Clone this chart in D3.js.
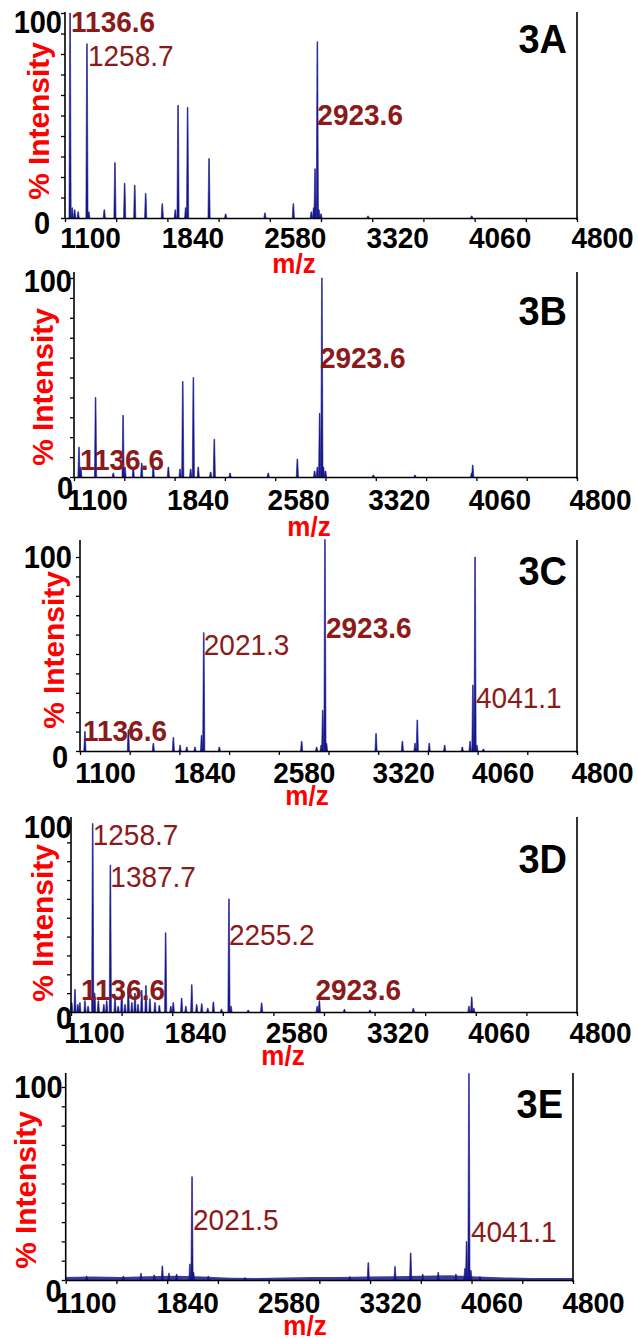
<!DOCTYPE html>
<html><head><meta charset="utf-8">
<script src="https://cdn.jsdelivr.net/npm/d3@7"></script>
<style>
html,body{margin:0;padding:0;background:#fff;}
svg{display:block;font-family:"Liberation Sans",Arial,sans-serif;}
</style></head><body>
<svg id="chart" width="638" height="1338"></svg>
<script>
// ---------- DATA ----------
const mzTickLabels = [1100, 1840, 2580, 3320, 4060, 4800];
const mzTickMarks = [1100, 1470, 1840, 2210, 2580, 2950, 3320, 3690, 4060, 4430, 4800];
const intensityTicks = [0, 10, 20, 30, 40, 50, 60, 70, 80, 90, 100];
const panelNames = ["3A", "3B", "3C", "3D", "3E"];
const xTitle = "m/z";
const yTitle = "% Intensity";

// peaks: [m/z, % intensity]
const peaksA = [[1136.6,100],[1152,5],[1170,4],[1195,3],[1258.7,85],[1272,3],[1384,4],[1461,27],[1531,17],[1604,16],[1683,12],[1803,7],[1897,4],[1917,55],[1972,5],[1986,54],[2141,29],[2261,2],[2545,2.5],[2750,7],[2880,3],[2897,5],[2907,24],[2923.6,86],[2935,4],[2950,2],[3290,1],[4039,1]];
const peaksB = [[1136.6,15],[1150,5],[1258.7,40],[1389,2],[1461,31],[1475,5],[1536,5],[1598,7],[1683,6],[1794,5],[1880,4],[1900,48],[1958,4],[1978,50],[2014,5],[2105,2.5],[2132,19],[2248,2],[2529,2],[2743,9],[2870,3],[2890,5],[2907,32],[2923.6,100],[2935,5],[2950,3],[3302,1],[3608,1],[4025,2],[4033,6]];
const peaksC = [[1136.6,10],[1460,11],[1646,4],[1795,7],[1845,3],[1895,2],[1956,2],[2005,8],[2021.3,61],[2137,2],[2750,5],[2862,2],[2895,3],[2907,21],[2923.6,109],[2935,4],[3304,9],[3500,5],[3594,4],[3611,16],[3700,4],[3815,3],[3946,2],[4004,5],[4025,34],[4041.1,100],[4055,3],[4103,1]];
const peaksD = [[1105,5],[1129,12],[1150,4],[1165,5],[1202,6],[1225,3],[1258.7,100],[1273,10],[1300,6],[1340,4],[1361,6],[1387.7,78],[1422,7],[1445,3],[1471,12],[1495,4],[1519,13],[1545,5],[1568,10],[1590,4],[1617,11.5],[1648,14],[1677,7],[1714,5],[1746,3.5],[1792,42],[1830,3],[1848,5],[1909,7.4],[1940,3],[1983,14.5],[2019,4],[2056,4.4],[2100,2],[2141,5.3],[2200,1.5],[2255.2,60],[2270,3],[2396,1],[2494,4.8],[2900,3],[2916,6],[3099,1.4],[3286,1],[3603,2],[4010,3],[4030,8],[4045,2]];
const peaksE = [[1253,2],[1520,2],[1649,3.5],[1746,2.6],[1805,7.3],[1853,3.5],[1909,3],[2006,8.3],[2021.5,53.5],[2032,4],[2140,2],[2408,1.2],[3173,1.7],[3307,9],[3502,7],[3616,14],[3704,3],[3817,4],[3946,3],[4012,6],[4024,20],[4041.1,107],[4055,5],[4121,1.7]];
// baseline noise floor of panel E: [m/z, %]
const noiseE = [[1100,1.5],[1300,1.8],[1500,1.6],[1700,2.0],[1900,2.2],[2100,1.8],[2300,1.2],[2500,1.0],[2700,1.3],[2900,1.5],[3100,1.6],[3300,1.8],[3500,2.0],[3700,2.2],[3900,2.5],[4100,1.8],[4300,1.3],[4500,1.0],[4800,1.0]];

// annotations: [text, m/z anchor, % level of text baseline, bold]
const labelsA = [["1136.6",1136.6,90.7,true],["1258.7",1258.7,74,false],["2923.6",2923.6,45.4,true]];
const labelsB = [["1136.6",1136.6,3.5,true],["2923.6",2923.6,54.8,true]];
const labelsC = [["1136.6",1136.6,5.2,true],["2021.3",2021.3,49.5,false],["2923.6",2923.6,58.2,true],["4041.1",4041.1,22.2,false]];
const labelsD = [["1258.7",1258.7,88.6,false],["1387.7",1387.7,66.3,false],["2255.2",2255.2,35.4,false],["1136.6",1136.6,6.2,true],["2923.6",2923.6,6.2,true]];
const labelsE = [["2021.5",2021.5,25.9,false],["4041.1",4041.1,19.7,false]];

const peaksAll = [peaksA, peaksB, peaksC, peaksD, peaksE];
const labelsAll = [labelsA, labelsB, labelsC, labelsD, labelsE];
const noiseAll = [null, null, null, null, noiseE];

// ---------- LAYOUT ----------
const layout = [
  {x0:65, x1:577, base:218, top:13, axisTop:12, yTitleX:49, yTitleY:121, mzX:294, mzY:273, tagR:567, tagY:53, xLabDx:25, xLabY:30, y0:{dx:-15,dy:5}, y100:{dx:-3,dy:9}, annDx:{"1136.6":1,"1258.7":1,"2923.6":0}},
  {x0:74, x1:577, base:477, top:278, axisTop:272, yTitleX:53, yTitleY:387, mzX:309, mzY:536, tagR:567, tagY:325, xLabDx:23, xLabY:33, y0:{dx:-1,dy:11}, y100:{dx:-2,dy:3}, annDx:{"1136.6":1,"2923.6":-2}},
  {x0:80, x1:577, base:751, top:557, axisTop:540, yTitleX:64, yTitleY:650, mzX:307, mzY:805, tagR:567, tagY:585, xLabDx:25, xLabY:32, y0:{dx:-12,dy:6}, y100:{dx:-8,dy:0}, annDx:{"1136.6":-2,"2021.3":0,"2923.6":1,"4041.1":1}},
  {x0:71, x1:577, base:1012, top:823.5, axisTop:817, yTitleX:53, yTitleY:923, mzX:283, mzY:1065, tagR:567, tagY:873, xLabDx:23, xLabY:31, y0:{dx:1,dy:6}, y100:{dx:1,dy:4}, annDx:{"1258.7":0,"1387.7":0,"2255.2":0,"1136.6":5,"2923.6":-5}},
  {x0:65.7, x1:573, base:1280, top:1087, axisTop:1073, yTitleX:36, yTitleY:1190, mzX:305, mzY:1335, tagR:563, tagY:1118, xLabDx:20, xLabY:33, y0:{dx:-4,dy:11}, y100:{dx:-3,dy:0}, annDx:{"2021.5":1,"4041.1":2}}
];

const PEAK = "#18188c", ANN = "#8b1a1a", RED = "#ff0000";
const SY = 1.08; // slight vertical stretch of glyphs seen in the reference
const FONT = '"Liberation Sans",Arial,sans-serif';
const svg = d3.select("#chart");
const tf = (tx, ty) => `translate(${tx},${ty}) scale(1,${SY})`;

layout.forEach((L, i) => {
  const g = svg.append("g");
  const x = d3.scaleLinear().domain([mzTickLabels[0], mzTickLabels[mzTickLabels.length-1]]).range([L.x0, L.x1]);
  const y = d3.scaleLinear().domain([0, 100]).range([L.base, L.top]);

  // noise floor
  if (noiseAll[i]) {
    g.append("path").datum(noiseAll[i])
      .attr("d", d3.area().x(d => x(d[0])).y0(y(0)).y1(d => y(d[1])))
      .attr("fill", PEAK).attr("opacity", 0.85);
  }
  // peaks
  g.selectAll("path.pk").data(peaksAll[i]).join("path").attr("class","pk")
    .attr("d", d => {
      const px = x(d[0]), py = y(d[1]), b = y(0);
      return `M${px-1.1},${b}L${px-0.35},${py}L${px+0.35},${py}L${px+1.1},${b}Z`;
    })
    .attr("fill", PEAK).attr("stroke", PEAK).attr("stroke-width", 0.6);

  // x axis
  const xa = g.append("g").attr("transform", `translate(0,${L.base})`)
    .call(d3.axisBottom(x).tickValues(mzTickMarks).tickSize(4).tickSizeOuter(0)
      .tickFormat(d => mzTickLabels.includes(d) ? d : ""));
  xa.select(".domain").attr("stroke","#000").attr("stroke-width",1.6);
  xa.selectAll(".tick line").attr("stroke","#000").attr("stroke-width",1.3);
  xa.selectAll(".tick text").attr("fill","#000").attr("font-size",28).attr("font-weight","bold")
    .attr("font-family", FONT)
    .attr("y", 0).attr("dy", 0).attr("transform", tf(L.xLabDx, L.xLabY));

  // y axis
  const ya = g.append("g").attr("transform", `translate(${L.x0},0)`)
    .call(d3.axisLeft(y).tickValues(intensityTicks).tickSize(4).tickSizeOuter(0)
      .tickFormat(d => (d === 0 || d === 100) ? d : ""));
  ya.select(".domain").remove();
  ya.selectAll(".tick line").attr("stroke","#000").attr("stroke-width",1.3);
  ya.selectAll(".tick text").attr("fill","#000").attr("font-size",29).attr("font-weight","bold")
    .attr("font-family", FONT)
    .attr("x", 0).attr("dy", 0)
    .attr("transform", d => d === 0 ? tf(L.y0.dx, L.y0.dy + 10) : tf(L.y100.dx, L.y100.dy + 10));
  g.append("line").attr("x1",L.x0).attr("x2",L.x0).attr("y1",L.base).attr("y2",L.axisTop)
    .attr("stroke","#000").attr("stroke-width",1.6);
  g.append("line").attr("x1",L.x1).attr("x2",L.x1).attr("y1",L.base+2).attr("y2",L.axisTop)
    .attr("stroke","#000").attr("stroke-width",1.6);

  // annotations
  g.selectAll("text.ann").data(labelsAll[i]).join("text").attr("class","ann")
    .attr("transform", d => tf(x(d[1]) + (L.annDx[d[0]] || 0), y(d[2])))
    .attr("fill", ANN).attr("font-size", 28)
    .attr("font-weight", d => d[3] ? "bold" : "normal")
    .text(d => d[0]);

  // panel tag
  g.append("text").attr("transform", tf(L.tagR, L.tagY)).attr("text-anchor","end")
    .attr("font-size", 38).attr("font-weight","bold").attr("fill","#000").text(panelNames[i]);

  // axis titles
  g.append("text").attr("transform", tf(L.mzX, L.mzY)).attr("text-anchor","middle")
    .attr("font-size", 26).attr("font-weight","bold").attr("fill", RED).text(xTitle);
  g.append("text").attr("transform", `translate(${L.yTitleX},${L.yTitleY}) rotate(-90) scale(1.03,1)`)
    .attr("text-anchor","middle").attr("font-size", 29).attr("font-weight","bold")
    .attr("fill", RED).text(yTitle);
});
</script>
</body></html>
